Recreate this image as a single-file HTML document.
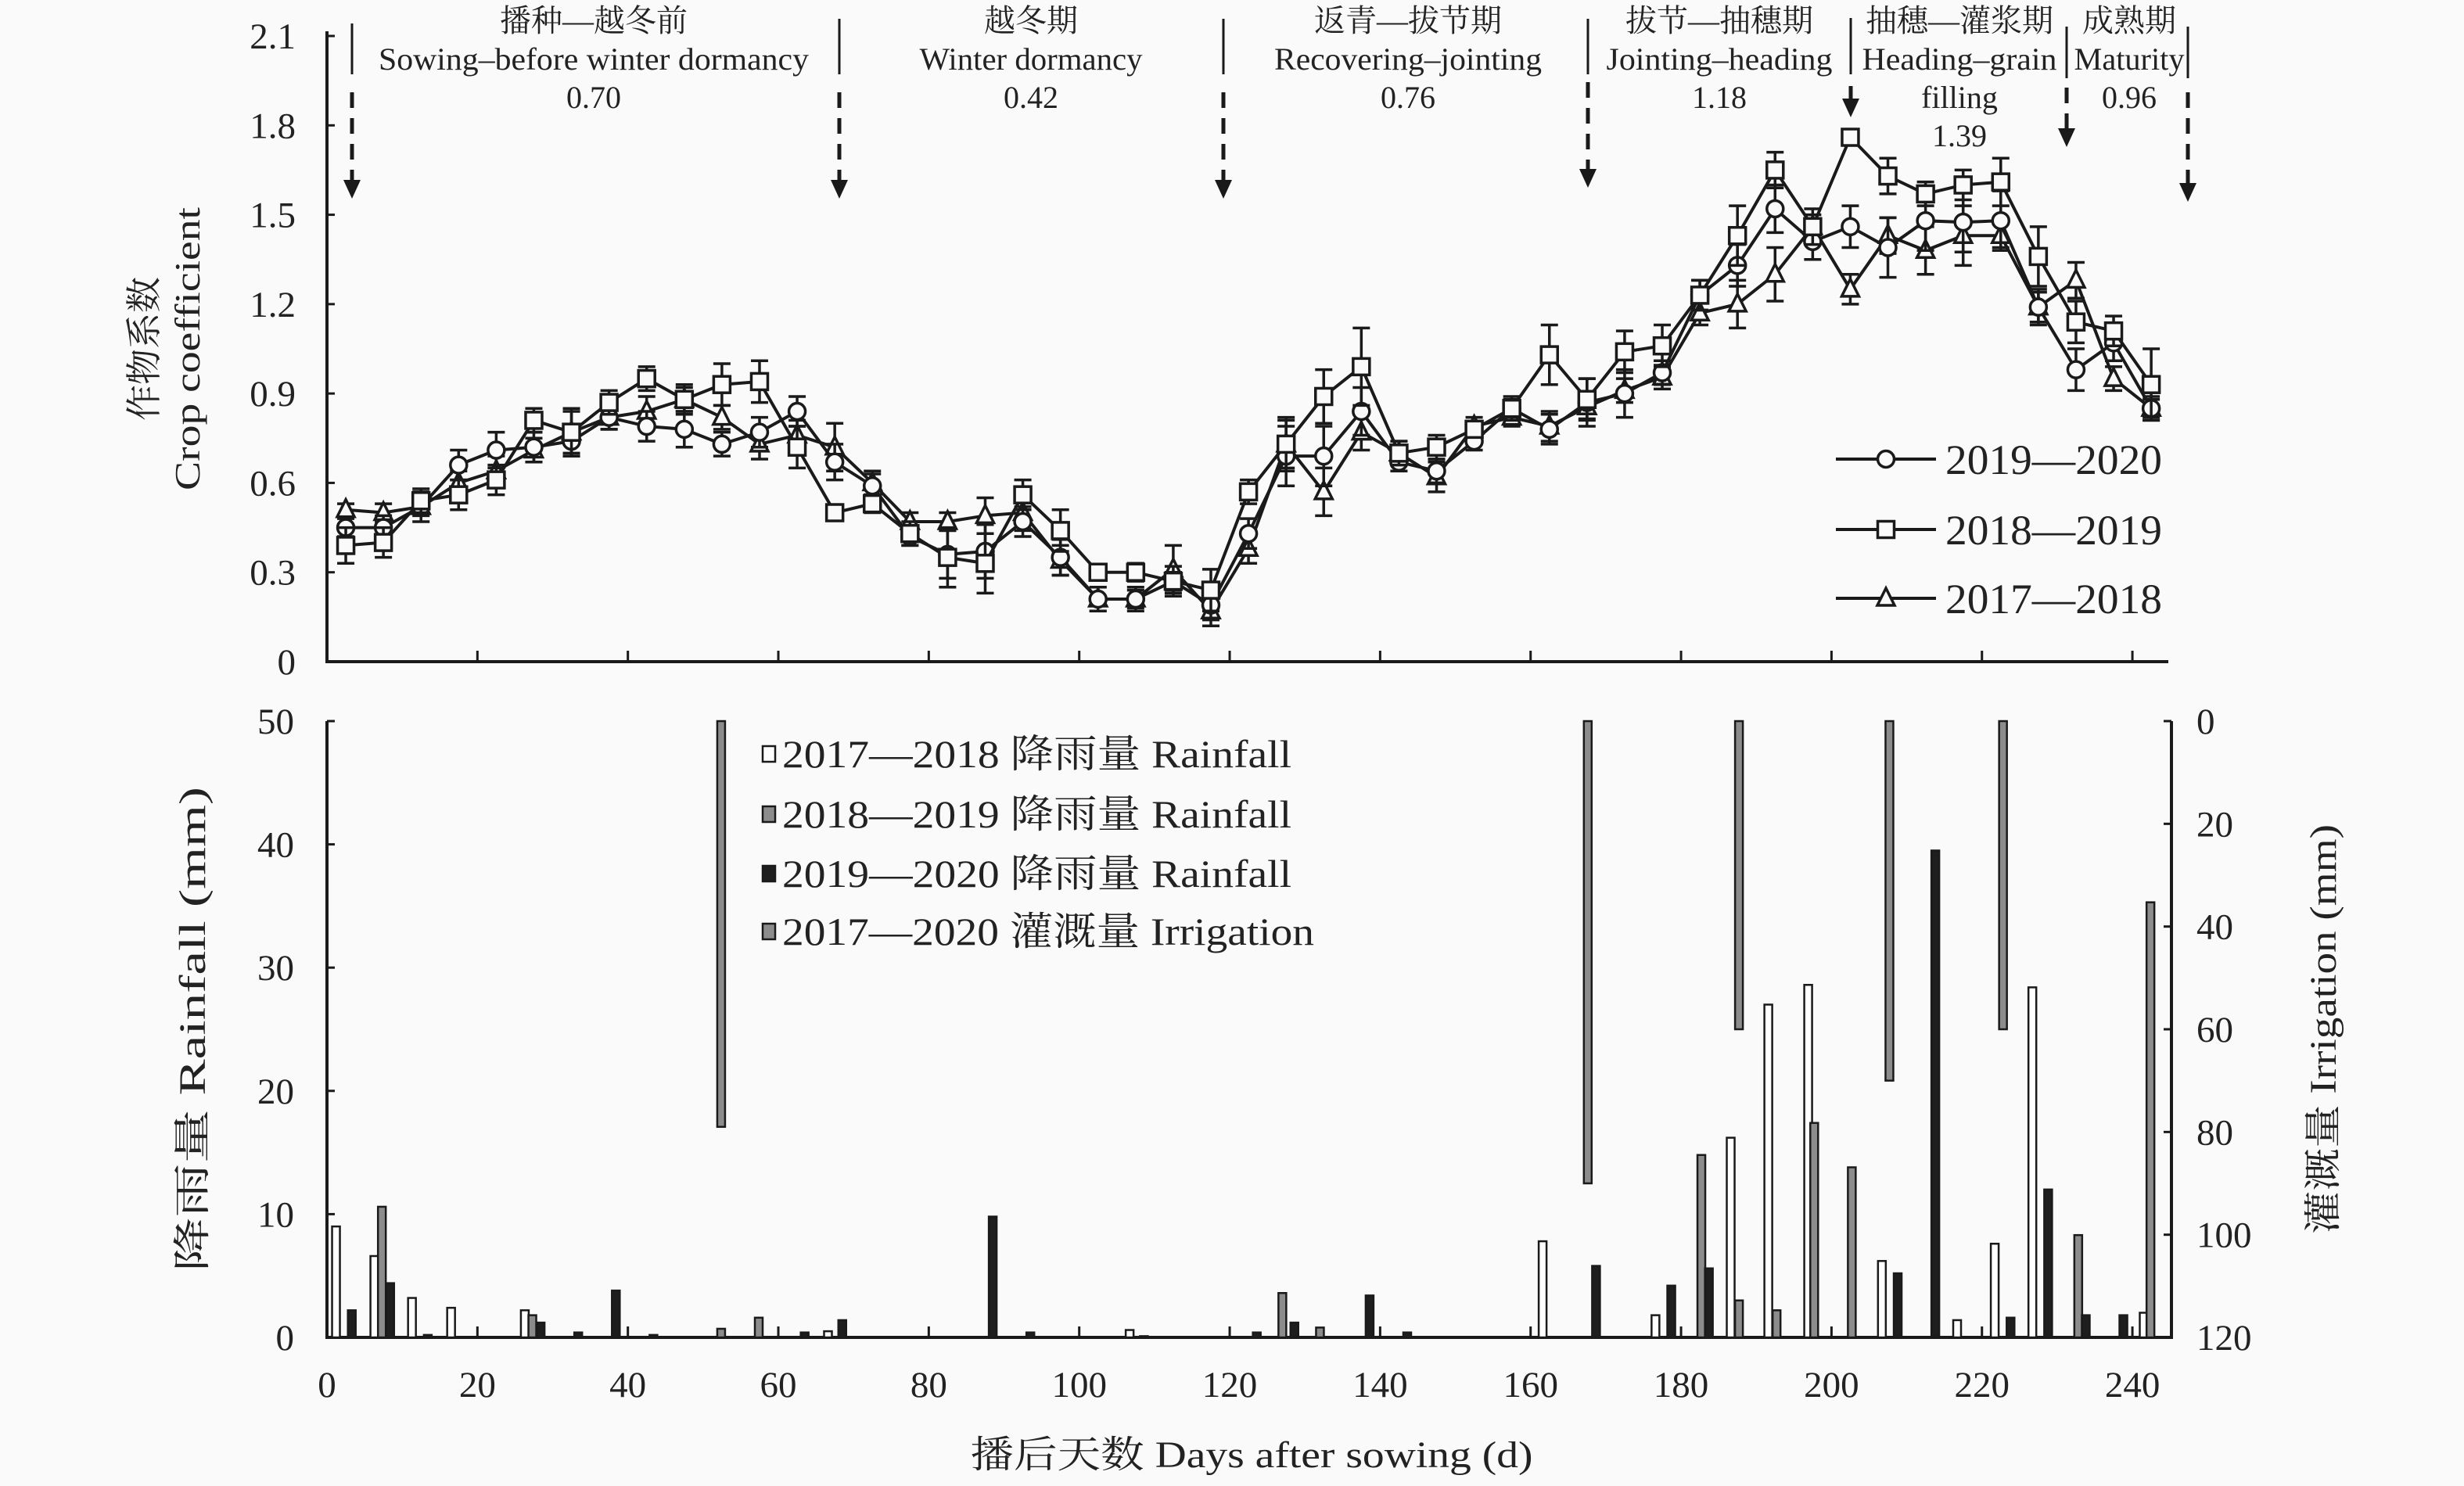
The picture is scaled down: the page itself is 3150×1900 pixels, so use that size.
<!DOCTYPE html>
<html><head><meta charset="utf-8"><style>
html,body{margin:0;padding:0;background:#fafafa}
svg{display:block}
text{font-family:"Liberation Serif","Noto Serif CJK SC","Noto Sans CJK SC",serif;fill:#222}
</style></head><body>
<svg id="chart" width="3150" height="1900" viewBox="0 0 3150 1900" xmlns="http://www.w3.org/2000/svg">
<rect x="0" y="0" width="3150" height="1900" fill="#fafafa"/>
<g id="axes"></g>
<g id="bars"></g>
<g id="series"></g>
<g id="annot"></g>
<g id="legends"></g>
</svg>
<script>
// ---------- Data ----------
const ptDays = [2.5,7.5,12.5,17.5,22.5,27.5,32.5,37.5,42.5,47.5,52.5,57.5,62.5,67.5,72.5,77.5,82.5,87.5,92.5,97.5,102.5,107.5,112.5,117.5,122.5,127.5,132.5,137.5,142.5,147.5,152.5,157.5,162.5,167.5,172.5,177.5,182.5,187.5,192.5,197.5,202.5,207.5,212.5,217.5,222.5,227.5,232.5,237.5,242.5];
const kc1920 = [0.45,0.45,0.52,0.66,0.71,0.72,0.74,0.82,0.79,0.78,0.73,0.77,0.84,0.67,0.59,0.42,0.36,0.37,0.47,0.35,0.21,0.21,0.27,0.19,0.43,0.69,0.69,0.84,0.67,0.64,0.74,0.85,0.78,0.87,0.90,0.97,1.23,1.33,1.52,1.41,1.46,1.39,1.48,1.475,1.48,1.19,0.98,1.07,0.85];
const kc1819 = [0.39,0.40,0.54,0.56,0.61,0.81,0.77,0.87,0.95,0.88,0.93,0.94,0.72,0.50,0.53,0.43,0.35,0.33,0.56,0.44,0.30,0.30,0.27,0.24,0.57,0.73,0.89,0.99,0.70,0.72,0.78,0.85,1.03,0.88,1.04,1.06,1.23,1.43,1.65,1.46,1.76,1.63,1.57,1.60,1.61,1.36,1.14,1.11,0.93];
const kc1718 = [0.51,0.50,0.52,0.60,0.64,0.71,0.77,0.82,0.84,0.88,0.82,0.73,0.76,0.72,0.60,0.47,0.47,0.49,0.50,0.34,0.21,0.21,0.31,0.17,0.38,0.73,0.57,0.77,0.70,0.62,0.79,0.82,0.79,0.855,0.91,0.955,1.17,1.20,1.30,1.46,1.25,1.43,1.38,1.43,1.43,1.19,1.28,0.95,0.85];
const err1920 = [0.03,0.04,0.03,0.05,0.06,0.05,0.05,0.04,0.05,0.06,0.04,0.05,0.05,0.06,0.04,0.03,0.08,0.09,0.05,0.06,0.04,0.04,0.05,0.05,0.05,0.10,0.10,0.08,0.03,0.04,0.03,0.04,0.05,0.08,0.08,0.04,0.05,0.07,0.08,0.06,0.07,0.10,0.10,0.10,0.10,0.06,0.07,0.06,0.04];
const err1819 = [0.06,0.05,0.04,0.05,0.05,0.04,0.07,0.04,0.04,0.05,0.07,0.07,0.07,0.02,0.03,0.04,0.10,0.10,0.05,0.07,0.02,0.03,0.03,0.07,0.04,0.09,0.09,0.13,0.04,0.04,0.02,0.03,0.10,0.07,0.07,0.07,0.05,0.10,0.06,0.06,0.02,0.06,0.04,0.05,0.08,0.10,0.07,0.05,0.12];
const err1718 = [0.02,0.03,0.05,0.04,0.05,0.04,0.08,0.04,0.05,0.04,0.04,0.05,0.05,0.08,0.04,0.03,0.03,0.06,0.06,0.05,0.04,0.03,0.08,0.05,0.05,0.08,0.08,0.06,0.04,0.05,0.03,0.03,0.05,0.04,0.04,0.04,0.04,0.08,0.09,0.04,0.05,0.06,0.08,0.10,0.04,0.05,0.06,0.04,0.03];

const rainDays1718 = [1.2,6.3,11.3,16.5,26.3,66.6,106.7,161.6,176.6,186.6,191.6,196.9,206.7,216.7,221.7,226.7,241.5];
const rain1718 = [9.0,6.6,3.2,2.4,2.2,0.5,0.6,7.8,1.8,16.2,27.0,28.6,6.2,1.4,7.6,28.4,2.0];
const rainDays1819 = [7.3,27.3,52.4,57.4,127.0,132.0,182.7,187.7,192.7,197.7,202.7,232.8,242.4];
const rain1819 = [10.6,1.8,0.7,1.6,3.6,0.8,14.8,3.0,2.2,17.4,13.8,8.3,35.3];
const rainDays1920 = [3.3,8.4,13.4,28.4,33.4,38.4,43.4,63.5,68.5,88.5,93.5,108.6,123.6,128.6,138.6,143.6,168.7,178.7,183.7,208.8,213.8,223.8,228.8,233.8,238.8];
const rain1920 = [2.2,4.4,0.2,1.2,0.4,3.8,0.2,0.4,1.4,9.8,0.4,0.1,0.4,1.2,3.4,0.4,5.8,4.2,5.6,5.2,39.5,1.6,12.0,1.8,1.8];
const irrDays = [52.4,167.6,187.7,207.7,222.8];
const irrAmt = [79,90,60,70,60];

const xTicks = [0,20,40,60,80,100,120,140,160,180,200,220,240];
const kcTicks = [0,0.3,0.6,0.9,1.2,1.5,1.8,2.1];
const kcTickLabels = ["0","0.3","0.6","0.9","1.2","1.5","1.8","2.1"];
const rainTicks = [0,10,20,30,40,50];
const irrTicks = [0,20,40,60,80,100,120];

// ---------- Scales ----------
const X0=418, PX_PER_DAY=9.617;
function xS(d){return X0+d*PX_PER_DAY;}
function yKc(v){return 846-v*380.95;}
function yRain(m){return 1710-m*15.76;}
function yIrr(i){return 922+i*6.567;}
const NS="http://www.w3.org/2000/svg";
function mk(parent,tag,attrs,txt){const e=document.createElementNS(NS,tag);for(const k in attrs)e.setAttribute(k,attrs[k]);if(txt!==undefined)e.textContent=txt;parent.appendChild(e);return e;}
const gAxes=document.getElementById('axes'),gBars=document.getElementById('bars'),gSer=document.getElementById('series'),gAnn=document.getElementById('annot'),gLeg=document.getElementById('legends');
const INK="#1a1a1a";

// ---------- Axes top ----------
let e;
e=mk(gAxes,'path',{d:`M${X0} 40 V846 H2772`,fill:'none',stroke:INK,'stroke-width':4});


kcTicks.forEach((v,i)=>{
  e=mk(gAxes,'line',{x1:X0,x2:X0+10,y1:yKc(v),y2:yKc(v),stroke:INK,'stroke-width':3});
  
  
  e=mk(gAxes,'text',{x:378,y:yKc(v)+16,'text-anchor':'end','font-size':47},kcTickLabels[i]);
  
  
});
xTicks.forEach(d=>{
  if(d===0)return;
  e=mk(gAxes,'line',{x1:xS(d),x2:xS(d),y1:846,y2:832,stroke:INK,'stroke-width':3});
  
  
});
// ---------- Axes bottom ----------
e=mk(gAxes,'path',{d:`M${X0} 922 V1710 H2776 V922`,fill:'none',stroke:INK,'stroke-width':4});


rainTicks.forEach(v=>{
  e=mk(gAxes,'line',{x1:X0,x2:X0+10,y1:yRain(v),y2:yRain(v),stroke:INK,'stroke-width':3});
  
  
  e=mk(gAxes,'text',{x:376,y:yRain(v)+16,'text-anchor':'end','font-size':47},String(v));
  
  
});
irrTicks.forEach(v=>{
  e=mk(gAxes,'line',{x1:2776,x2:2766,y1:yIrr(v),y2:yIrr(v),stroke:INK,'stroke-width':3});
  
  
  e=mk(gAxes,'text',{x:2808,y:yIrr(v)+16,'text-anchor':'start','font-size':47},String(v));
  
  
});
xTicks.forEach(d=>{
  e=mk(gAxes,'line',{x1:xS(d),x2:xS(d),y1:1710,y2:1696,stroke:INK,'stroke-width':3});
  
  
  e=mk(gAxes,'text',{x:xS(d),y:1786,'text-anchor':'middle','font-size':47},String(d));
  
  
});
// axis titles
e=mk(gAxes,'text',{x:1600,y:1876,'text-anchor':'middle','font-size':48,textLength:719,lengthAdjust:'spacingAndGlyphs'},'播后天数 Days after sowing (d)');


e=mk(gAxes,'text',{x:0,y:0,'text-anchor':'middle','font-size':46,transform:'translate(200,446) rotate(-90)'},'作物系数');


e=mk(gAxes,'text',{x:0,y:0,'text-anchor':'middle','font-size':46,textLength:362,lengthAdjust:'spacingAndGlyphs',transform:'translate(255,446) rotate(-90)'},'Crop coefficient');


e=mk(gAxes,'text',{x:0,y:0,'text-anchor':'middle','font-size':48,textLength:620,lengthAdjust:'spacingAndGlyphs',transform:'translate(262,1316) rotate(-90)'},'降雨量 Rainfall (mm)');


e=mk(gAxes,'text',{x:0,y:0,'text-anchor':'middle','font-size':48,textLength:524,lengthAdjust:'spacingAndGlyphs',transform:'translate(2986,1316) rotate(-90)'},'灌溉量 Irrigation (mm)');



// ---------- Bars ----------
const BW=10;
function bar(day,top,bottom,fill,name){
  const b=mk(gBars,'rect',{x:xS(day)-BW/2,y:Math.min(top,bottom),width:BW,height:Math.max(1.5,Math.abs(bottom-top)),fill:fill,stroke:INK,'stroke-width':2.5});
  
  
}
rainDays1718.forEach((d,i)=>bar(d,yRain(rain1718[i]),yRain(0),'#ffffff','rain-2017-2018-bar'));
rainDays1819.forEach((d,i)=>bar(d,yRain(rain1819[i]),yRain(0),'#8c8c8c','rain-2018-2019-bar'));
rainDays1920.forEach((d,i)=>bar(d,yRain(rain1920[i]),yRain(0),'#1e1e1e','rain-2019-2020-bar'));
irrDays.forEach((d,i)=>bar(d,yIrr(0),yIrr(irrAmt[i]),'#8c8c8c','irrigation-bar'));

// ---------- Series ----------
function drawSeries(vals,errs,shape,name){
  const pts=ptDays.map((d,i)=>[xS(d),yKc(vals[i])]);
  const pl=mk(gSer,'polyline',{points:pts.map(p=>p.join(',')).join(' '),fill:'none',stroke:INK,'stroke-width':4});
  
  
  ptDays.forEach((d,i)=>{
    const x=xS(d),yt=yKc(vals[i]+errs[i]),yb=yKc(vals[i]-errs[i]);
    const eb=mk(gSer,'path',{d:`M${x} ${yt} V${yb} M${x-11} ${yt} H${x+11} M${x-11} ${yb} H${x+11}`,stroke:INK,'stroke-width':3.5,fill:'none'});
    
    
  });
  pts.forEach(p=>{
    const m=marker(gSer,shape,p[0],p[1]);
    
    
  });
}
function marker(g,shape,x,y){
  if(shape==='circle')return mk(g,'circle',{cx:x,cy:y,r:10.5,fill:'#fafafa',stroke:INK,'stroke-width':3.5});
  if(shape==='square')return mk(g,'rect',{x:x-10.5,y:y-10.5,width:21,height:21,fill:'#fafafa',stroke:INK,'stroke-width':3.5});
  return mk(g,'path',{d:`M${x} ${y-13} L${x+11} ${y+9} L${x-11} ${y+9} Z`,fill:'#fafafa',stroke:INK,'stroke-width':3.5});
}
drawSeries(kc1718,err1718,'triangle','kc-2017-2018');
drawSeries(kc1920,err1920,'circle','kc-2019-2020');
drawSeries(kc1819,err1819,'square','kc-2018-2019');

// ---------- Phase annotations ----------
const phases=[
 {cx:759,cn:'播种—越冬前',en:'Sowing–before winter dormancy',enw:550,val:'0.70'},
 {cx:1318,cn:'越冬期',en:'Winter dormancy',enw:285,val:'0.42'},
 {cx:1800,cn:'返青—拔节期',en:'Recovering–jointing',enw:342,val:'0.76'},
 {cx:2198,cn:'拔节—抽穗期',en:'Jointing–heading',enw:289,val:'1.18'},
 {cx:2505,cn:'抽穗—灌浆期',en:'Heading–grain',enw:249,val:'filling',val2:'1.39'},
 {cx:2722,cn:'成熟期',en:'Maturity',enw:141,val:'0.96'}
];
phases.forEach(p=>{
  e=mk(gAnn,'text',{x:p.cx,y:40,'text-anchor':'middle','font-size':40},p.cn);
  
  
  e=mk(gAnn,'text',{x:p.cx,y:89,'text-anchor':'middle','font-size':40,textLength:p.enw,lengthAdjust:'spacingAndGlyphs'},p.en);
  
  
  e=mk(gAnn,'text',{x:p.cx,y:138,'text-anchor':'middle','font-size':40},p.val);
  
  
  if(p.val2){
    e=mk(gAnn,'text',{x:p.cx,y:187,'text-anchor':'middle','font-size':40},p.val2);
    
    
  }
});
const dividers=[{x:450,y1:30,y2:95,aTop:118,aEnd:254},{x:1073,y1:24,y2:95,aTop:118,aEnd:254},{x:1564,y1:24,y2:95,aTop:118,aEnd:254},{x:2030,y1:24,y2:95,aTop:105,aEnd:240},{x:2366,y1:23,y2:95,aTop:110,aEnd:150,solid:true},{x:2642,y1:34,y2:100,aTop:112,aEnd:188},{x:2797,y1:34,y2:100,aTop:118,aEnd:258}];
dividers.forEach(dv=>{
  e=mk(gAnn,'line',{x1:dv.x,x2:dv.x,y1:dv.y1,y2:dv.y2,stroke:INK,'stroke-width':3});
  
  
  const attrs={x1:dv.x,x2:dv.x,y1:dv.aTop,y2:dv.aEnd-20,stroke:INK,'stroke-width':5};
  if(!dv.solid)attrs['stroke-dasharray']='20 13';
  e=mk(gAnn,'line',attrs);
  
  
  e=mk(gAnn,'path',{d:`M${dv.x-11} ${dv.aEnd-24} L${dv.x+11} ${dv.aEnd-24} L${dv.x} ${dv.aEnd} Z`,fill:INK});
  
  
});

// ---------- Legends ----------
const kcLeg=[{y:587,shape:'circle',label:'2019—2020'},{y:677,shape:'square',label:'2018—2019'},{y:765,shape:'triangle',label:'2017—2018'}];
kcLeg.forEach(l=>{
  e=mk(gLeg,'line',{x1:2347,x2:2475,y1:l.y,y2:l.y,stroke:INK,'stroke-width':4});
  
  
  e=marker(gLeg,l.shape,2411,l.y);
  
  
  e=mk(gLeg,'text',{x:2487,y:l.y+19,'font-size':54,textLength:277,lengthAdjust:'spacingAndGlyphs'},l.label);
  
  
});
const barLeg=[{y:964,fill:'#ffffff',label:'2017—2018 降雨量 Rainfall',w:651},{y:1041,fill:'#8c8c8c',label:'2018—2019 降雨量 Rainfall',w:651},{y:1117,fill:'#1e1e1e',label:'2019—2020 降雨量 Rainfall',w:651},{y:1191,fill:'#8c8c8c',label:'2017—2020 灌溉量 Irrigation',w:680}];
barLeg.forEach(l=>{
  e=mk(gLeg,'rect',{x:975,y:l.y-10,width:16,height:20,fill:l.fill,stroke:INK,'stroke-width':2.5});
  
  
  e=mk(gLeg,'text',{x:1000,y:l.y+17,'font-size':50,textLength:l.w,lengthAdjust:'spacingAndGlyphs'},l.label);
  
  
});
</script>
</body></html>
